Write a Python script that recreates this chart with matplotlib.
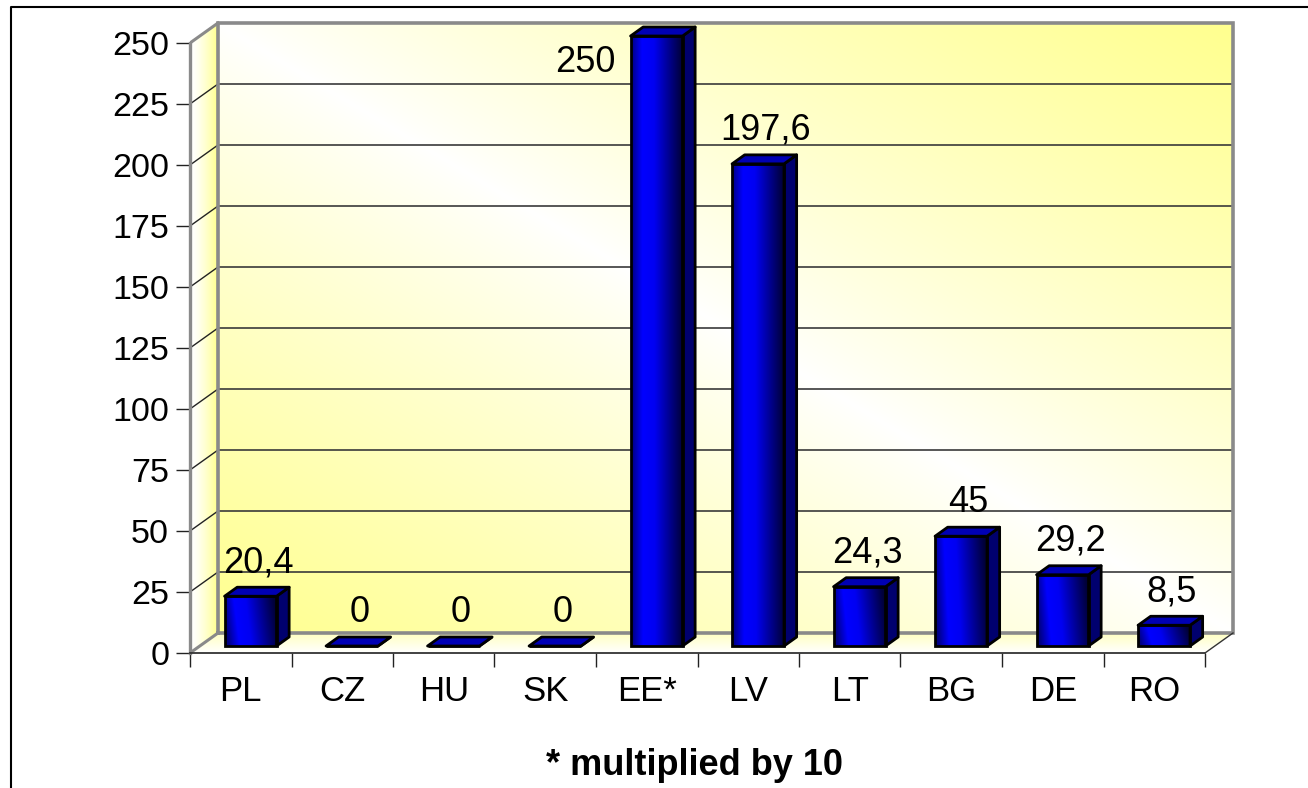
import numpy as np
import matplotlib
matplotlib.use('Agg')
import matplotlib.pyplot as plt
from matplotlib.patches import Polygon
from matplotlib.lines import Line2D
from matplotlib.colors import LinearSegmentedColormap

# ---------------- data ----------------
categories = ['PL', 'CZ', 'HU', 'SK', 'EE*', 'LV', 'LT', 'BG', 'DE', 'RO']
values = [20.4, 0, 0, 0, 250, 197.6, 24.3, 45, 29.2, 8.5]
value_labels = ['20,4', '0', '0', '0', '250', '197,6', '24,3', '45', '29,2', '8,5']
y_ticks = [0, 25, 50, 75, 100, 125, 150, 175, 200, 225, 250]
footnote = '* multiplied by 10'

plt.rcParams['font.family'] = ['Liberation Sans', 'DejaVu Sans']

W, H = 1308, 788
fig = plt.figure(figsize=(W / 100, H / 100), dpi=100)
fig.patch.set_facecolor('white')

# pixel scales of the front plane
PX_X = 101.5      # px per category
PX_Y = 2.44       # px per value unit
X0, Y0 = 190, 653
XMAX, YMAX = 10.35, 262
ax = fig.add_axes([X0 / W, (H - Y0) / H, XMAX * PX_X / W, YMAX * PX_Y / H])
ax.patch.set_visible(False)

# depth offsets (full depth) in data units
DX = 28 / PX_X
DY = 20 / PX_Y
TOP = y_ticks[-1]
n = len(values)

def clipped_image(arr, extent, verts, z):
    poly = Polygon(verts, closed=True, facecolor='none', edgecolor='none',
                   transform=ax.transData)
    ax.add_patch(poly)
    im = ax.imshow(arr, extent=extent, aspect='auto', origin='lower',
                   interpolation='bilinear', zorder=z)
    im.set_clip_path(poly)
    return im

yellow = np.array([1.0, 1.0, 0.56])
white = np.array([1.0, 1.0, 1.0])

# back wall: diagonal yellow-white-yellow gradient
gu, gw = np.meshgrid(np.linspace(0, 1, 300), np.linspace(0, 1, 200))
t = (gu + gw) / 2
m = np.abs(2 * t - 1) ** 0.85
back = white[None, None, :] * (1 - m[..., None]) + yellow[None, None, :] * m[..., None]
clipped_image(back, [DX, n + DX, DY, TOP + DY],
              [(DX, DY), (n + DX, DY), (n + DX, TOP + DY), (DX, TOP + DY)], 0)

# left side wall: white -> yellow horizontally
su = np.linspace(0, 1, 50)[None, :].repeat(10, axis=0)
ms = su ** 1.5
side = white[None, None, :] * (1 - ms[..., None]) + np.array([1, 1, 0.55])[None, None, :] * ms[..., None]
clipped_image(side, [0, DX, 0, TOP + DY],
              [(0, 0), (DX, DY), (DX, TOP + DY), (0, TOP)], 0)

# floor
fw = np.linspace(0, 1, 30)[:, None].repeat(10, axis=1)
fl = white[None, None, :] * (1 - fw[..., None] * 0.8) + np.array([1, 1, 0.70])[None, None, :] * (fw[..., None] * 0.8)
clipped_image(fl, [0, n + DX, 0, DY],
              [(0, 0), (n, 0), (n + DX, DY), (DX, DY)], 0)

# gridlines on back and side wall
for v in y_ticks[1:-1]:
    ax.plot([DX, n + DX], [v + DY, v + DY], color='#3a3a3a', lw=1.2, zorder=1)
    ax.plot([0, DX], [v, v + DY], color='#222222', lw=1.0, zorder=1)

# wall borders
gray = '#8a8a8a'
ax.plot([DX, n + DX, n + DX, DX, DX], [DY, DY, TOP + DY, TOP + DY, DY],
        color=gray, lw=2.6, zorder=1.5, solid_joinstyle='miter')
ax.plot([0, DX], [TOP, TOP + DY], color=gray, lw=2.2, zorder=1.5)
ax.plot([0, DX], [0, DY], color=gray, lw=2.2, zorder=1.5)
ax.plot([n, n + DX], [0, DY], color='#333333', lw=1.0, zorder=1.5)

# ---------------- bars ----------------
F0, FD = 0.35, 0.45
BW = 0.512
xc = np.arange(n) + 0.5
bars = ax.bar(xc + F0 * DX, values, width=BW, bottom=F0 * DY,
              facecolor='none', edgecolor='black', linewidth=2.0, zorder=6)

front_cmap = LinearSegmentedColormap.from_list('front', [
    (0.0, (0.0, 0.0, 0.50)),
    (0.22, (0.0, 0.0, 1.0)),
    (0.45, (0.0, 0.0, 0.95)),
    (1.0, (0.0, 0.0, 0.22)),
])

for b, v in zip(bars, values):
    x0 = b.get_x()
    x1 = x0 + b.get_width()
    y0 = b.get_y()
    y1 = y0 + b.get_height()
    ox, oy = FD * DX, FD * DY
    if v > 0:
        gx = np.linspace(0, 1, 100)[None, :]
        gy = np.linspace(0, 1, 60)[:, None]
        grad = np.clip(gx + 0.12 * (gy - 0.5) * min(1, 40 / max(v, 1)), 0, 1)
        im = ax.imshow(grad, extent=[x0, x1, y0, y1], aspect='auto', origin='lower',
                       cmap=front_cmap, vmin=0, vmax=1, interpolation='bilinear', zorder=5)
        im.set_clip_path(b)
    # side face
    ax.add_patch(Polygon([(x1, y0), (x1 + ox, y0 + oy), (x1 + ox, y1 + oy), (x1, y1)],
                         closed=True, facecolor='#00006e', edgecolor='black', lw=2.0,
                         zorder=5.5, joinstyle='round'))
    # top face
    ax.add_patch(Polygon([(x0, y1), (x1, y1), (x1 + ox, y1 + oy), (x0 + ox, y1 + oy)],
                         closed=True, facecolor='#0000b4', edgecolor='black', lw=2.0,
                         zorder=5.5, joinstyle='round'))

# value labels
for i, (b, v, lab) in enumerate(zip(bars, values, value_labels)):
    if v + 12.7 + 10 > TOP:
        ax.text(b.get_x() - 15 / PX_X, v - 11.9, lab, ha='right', va='baseline',
                fontsize=26, zorder=8)
    else:
        ax.text(xc[i] + 0.17, v + 12.7, lab, ha='center', va='baseline',
                fontsize=26, zorder=8)

# ---------------- axes ----------------
ax.set_xlim(0, XMAX)
ax.set_ylim(0, YMAX)
ax.set_yticks(y_ticks)
ax.set_yticklabels([str(v) for v in y_ticks])
ax.tick_params(axis='y', direction='out', length=10, width=1.0, color='#222222',
               pad=5, labelsize=24.5)
ax.set_xticks(range(n + 1))
ax.set_xticklabels([''] * (n + 1))
ax.set_xticks(xc, minor=True)
ax.set_xticklabels(categories, minor=True)
ax.tick_params(axis='x', which='major', direction='out', length=10, width=1.0,
               color='#222222')
ax.tick_params(axis='x', which='minor', length=0, pad=16, labelsize=25)
for s in ['top', 'right']:
    ax.spines[s].set_visible(False)
ax.spines['left'].set_bounds(0, TOP)
ax.spines['left'].set_color(gray)
ax.spines['left'].set_linewidth(2.4)
ax.spines['bottom'].set_bounds(0, n)
ax.spines['bottom'].set_color('#333333')
ax.spines['bottom'].set_linewidth(1.3)

fig.text(694.5 / W, 1 - 775 / H, footnote, ha='center', va='baseline',
         fontsize=26, fontweight='bold')

# outer frame
fig.add_artist(Line2D([11 / W, 11 / W, 1.0], [0.0, 1 - 7 / H, 1 - 7 / H],
                      transform=fig.transFigure, color='black', lw=1.5))

fig.savefig('out.png', dpi=100)
